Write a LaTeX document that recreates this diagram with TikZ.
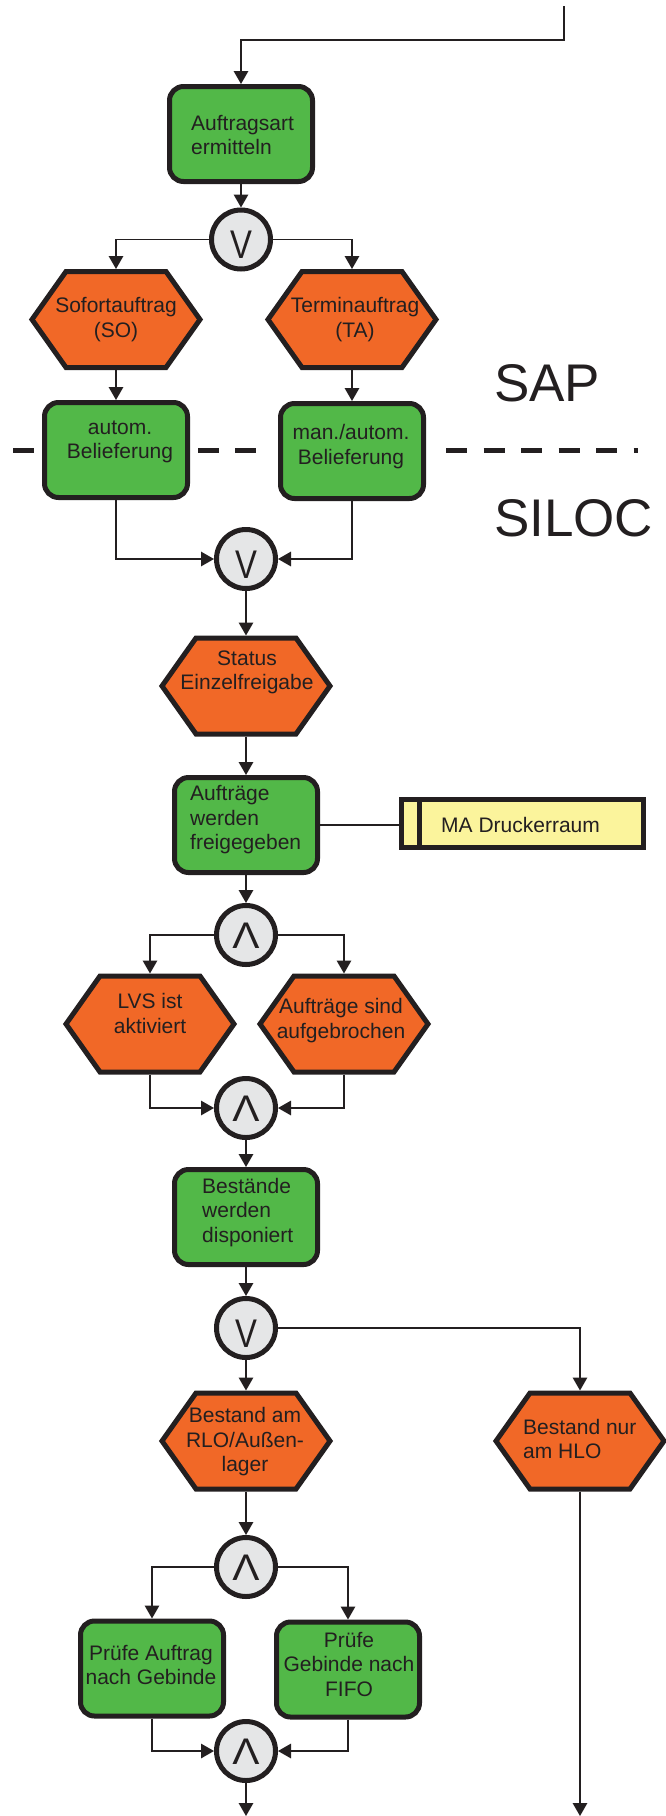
\documentclass[tikz,border=0pt]{standalone}
\usepackage{fontspec}
\setmainfont{Liberation Sans}
\newfontfamily\orfont[FakeStretch=0.82]{Liberation Sans}
\newfontfamily\andfont[FakeStretch=1.1]{Liberation Sans}
\usetikzlibrary{arrows.meta,calc}
\pgfdeclarelayer{background}
\pgfsetlayers{background,main}

\definecolor{fgreen}{RGB}{82,184,72}
\definecolor{eorange}{RGB}{241,104,39}
\definecolor{cgray}{RGB}{229,230,231}
\definecolor{ryellow}{RGB}{251,244,156}
\definecolor{ink}{RGB}{35,31,32}

\tikzset{
  func/.style={draw=ink, line width=5pt, fill=fgreen, rounded corners=14pt,
    minimum width=143pt, minimum height=95pt, inner sep=0pt},
  evt/.style={minimum width=105pt, minimum height=101pt, inner sep=0pt, outer sep=0pt},
  evshape/.style={draw=ink, line width=5pt, fill=eorange, line join=miter},
  gate/.style={circle, draw=ink, line width=5pt, fill=cgray, minimum size=59pt,
    inner sep=0pt, text=ink, text depth=0pt},
  gateor/.style={gate, font=\orfont\fontsize{40}{40}\selectfont, text height=38pt},
  gateand/.style={gate, font=\andfont\fontsize{37}{37}\selectfont, text height=26.5pt},
  role/.style={draw=ink, line width=5pt, fill=ryellow, minimum width=242pt,
    minimum height=48pt, inner sep=0pt},
  conn/.style={draw=ink, line width=1.5pt, -{Triangle[length=13pt,width=14.5pt]}},
  link/.style={draw=ink, line width=1.5pt},
  dashline/.style={draw=ink, line width=5pt},
  txt/.style={font=\fontsize{21}{24.5}\selectfont, text=ink, inner sep=0pt, align=center},
  big/.style={font=\fontsize{53}{53}\selectfont, text=ink, inner sep=0pt},
}

\begin{document}
\begin{tikzpicture}[x=1pt,y=-1pt]
\useasboundingbox (0,0) rectangle (665,1816);

% ---- shapes ----
\node[func] (f1) at (241,134) {};
\node[gateor] (v1) at (241,239.5) {V};
\node[evt] (so) at (116,319.5) {};
\node[evt] (ta) at (352,319.5) {};
\node[func] (f2) at (116,450) {};
\node[func] (f3) at (352,451) {};
\node[gateor] (v2) at (246,559) {V};
\node[evt] (st) at (246,686) {};
\node[func] (f4) at (246,825) {};
\node[role] (ma) at (522,823.5) {};
\node[gateand] (v3) at (246,935) {Λ};
\node[evt] (lvs) at (150,1024) {};
\node[evt] (ab) at (344,1024) {};
\node[gateand] (v4) at (246,1108) {Λ};
\node[func] (f5) at (246,1217) {};
\node[gateor] (v5) at (246,1328) {V};
\node[evt] (rlo) at (246,1441) {};
\node[evt] (hlo) at (580,1441) {};
\node[gateand] (v6) at (246,1567) {Λ};
\node[func] (p1) at (152,1668.5) {};
\node[func] (p2) at (348,1669.5) {};
\node[gateand] (v7) at (246,1751) {Λ};

% event hexagons and the system boundary, behind everything
\begin{pgfonlayer}{background}
  \draw[dashline] (13,450) -- (34,450);
  \draw[dashline, dash pattern=on 21pt off 16pt] (198,450) -- (257,450);
  \draw[dashline, dash pattern=on 21pt off 16.5pt] (446,450) -- (638,450);
  \foreach \n in {so,ta,st,lvs,ab,rlo,hlo}
    \draw[evshape, shift={(\n.center)}]
      (-50,-48) -- (50,-48) -- (84,0) -- (50,48) -- (-50,48) -- (-84,0) -- cycle;
\end{pgfonlayer}

% role box divider
\draw[ink, line width=5pt] ($(ma.north west)+(21,0)$) -- ($(ma.south west)+(21,0)$);

% ---- texts ----
\node[txt, anchor=west, align=left] (f1t) at (191,135) {Auftragsart\\ermitteln};
\node[txt] (sot) at (116,319.5) {Sofortauftrag\\(SO)};
\node[txt] (tat) at (355,319.5) {Terminauftrag\\(TA)};
\node[txt] (f2t) at (120,442) {autom.\\Belieferung};
\node[txt] (f3t) at (351,446.5) {man./autom.\\Belieferung};
\node[big, anchor=west] (sap) at (494,383) {SAP};
\node[big, anchor=west] (siloc) at (494,518) {SILOC};
\node[txt] (stt) at (247,672.5) {Status\\Einzelfreigabe};
\node[txt, anchor=west, align=left] (f4t) at (190,820) {Aufträge\\werden\\freigegeben};
\node[txt, anchor=west] (mat) at (441,825) {MA Druckerraum};
\node[txt] (lvst) at (150,1013.5) {LVS ist\\aktiviert};
\node[txt] (abt) at (341,1020.5) {Aufträge sind\\aufgebrochen};
\node[txt, anchor=west, align=left] (f5t) at (202,1212.5) {Bestände\\werden\\disponiert};
\node[txt] (rlot) at (245,1442) {Bestand am\\RLO/Außen-\\lager};
\node[txt, anchor=west, align=left] (hlot) at (523,1439) {Bestand nur\\am HLO};
\node[txt] (p1t) at (151,1665) {Prüfe Auftrag\\nach Gebinde};
\node[txt] (p2t) at (349,1664) {Prüfe\\Gebinde nach\\FIFO};

% ---- connectors ----
\coordinate (in) at (564,6);
\coordinate (outl) at (246,1816);
\coordinate (outr) at (580,1816);

\draw[conn] (in) -- ++(0,34) -| (f1.north);
\draw[conn] (f1.south) -- (v1.north);
\draw[conn] (v1.west) -| (so.north);
\draw[conn] (v1.east) -| (ta.north);
\draw[conn] (so.south) -- (f2.north);
\draw[conn] (ta.south) -- (f3.north);
\draw[conn] (f2.south) |- (v2.west);
\draw[conn] (f3.south) |- (v2.east);
\draw[conn] (v2.south) -- (st.north);
\draw[conn] (st.south) -- (f4.north);
\draw[link] (f4.east) -- (f4.east -| ma.west);
\draw[conn] (f4.south) -- (v3.north);
\draw[conn] (v3.west) -| (lvs.north);
\draw[conn] (v3.east) -| (ab.north);
\draw[conn] (lvs.south) |- (v4.west);
\draw[conn] (ab.south) |- (v4.east);
\draw[conn] (v4.south) -- (f5.north);
\draw[conn] (f5.south) -- (v5.north);
\draw[conn] (v5.south) -- (rlo.north);
\draw[conn] (v5.east) -| (hlo.north);
\draw[conn] (hlo.south) -- (outr);
\draw[conn] (rlo.south) -- (v6.north);
\draw[conn] (v6.west) -| (p1.north);
\draw[conn] (v6.east) -| (p2.north);
\draw[conn] (p1.south) |- (v7.west);
\draw[conn] (p2.south) |- (v7.east);
\draw[conn] (v7.south) -- (outl);
\end{tikzpicture}
\end{document}
